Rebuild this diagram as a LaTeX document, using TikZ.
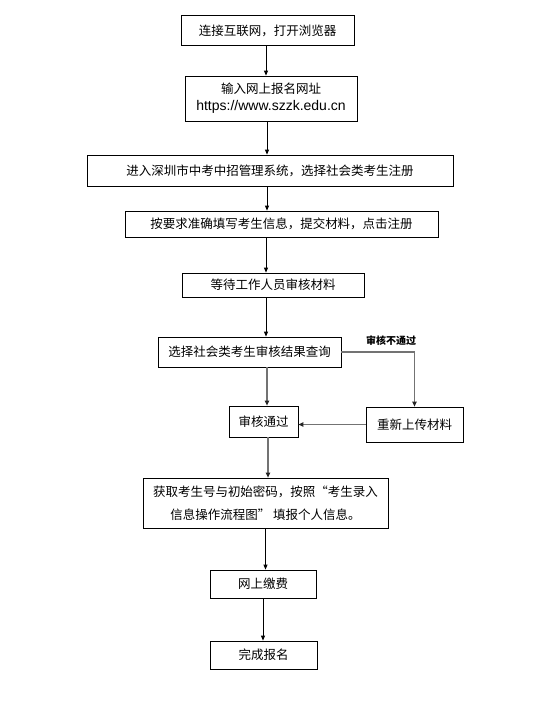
\documentclass[tikz,border=0pt]{standalone}
\usepackage{fontspec}
\setmainfont{Noto Sans CJK SC}
\newfontfamily\urlfont{Liberation Sans}
\usetikzlibrary{arrows.meta,calc}
\tikzset{
  box/.style={draw=black, line width=0.8pt, inner sep=0pt, align=center, font=\fontsize{12.5}{18}\selectfont},
  arr/.style={line width=0.8pt, -{Triangle[length=5pt,width=4pt]}},
  garr/.style={line width=1.1pt, draw=black!55, -{Triangle[length=5pt,width=4.5pt, color=black!85, fill=black!85]}},
}
\begin{document}
\begin{tikzpicture}[x=1pt,y=-1pt]
\useasboundingbox (0,0) rectangle (540,716);
\node[box, minimum width=173pt, minimum height=30pt] (b1) at (267.5,30.5) {连接互联网，打开浏览器};
\node[box, minimum width=172pt, minimum height=45pt] (b2) at (271,98.5) {输入网上报名网址\\[-1pt]{\urlfont\fontsize{14}{16}\selectfont https://www.szzk.edu.cn}};
\node[box, minimum width=366pt, minimum height=31pt] (b3) at (270,170.5) {进入深圳市中考中招管理系统，选择社会类考生注册};
\node[box, minimum width=313pt, minimum height=26pt] (b4) at (281.5,224) {按要求准确填写考生信息，提交材料，点击注册};
\node[box, minimum width=182pt, minimum height=24pt] (b5) at (273,285) {等待工作人员审核材料};
\node[box, minimum width=183pt, minimum height=30pt] (b6) at (249.5,352) {选择社会类考生审核结果查询};
\node[box, minimum width=69pt, minimum height=31pt] (b7) at (263.5,421.5) {审核通过};
\node[box, minimum width=97pt, minimum height=35pt] (b8) at (414.5,424.5) {重新上传材料};
\node[box, minimum width=245pt, minimum height=50pt, font=\fontsize{12.5}{23}\selectfont] (b9) at (265.5,503) {获取考生号与初始密码，按照“考生录入\\信息操作流程图” 填报个人信息。};
\node[box, minimum width=106pt, minimum height=28pt] (b10) at (263,584) {网上缴费};
\node[box, minimum width=107pt, minimum height=28pt] (b11) at (263.5,655) {完成报名};
\node[font=\fontsize{10}{12}\selectfont\bfseries] (lbl) at (391,341) {审核不通过};

\coordinate (c1) at (266,0);
\coordinate (c2) at (267,0);
\coordinate (c3) at (268,0);
\draw[arr] (b1.south -| c1) -- (b2.north -| c1);
\draw[arr] (b2.south -| c2) -- (b3.north -| c2);
\draw[arr] (b3.south -| c2) -- (b4.north -| c2);
\draw[arr] (b4.south -| c1) -- (b5.north -| c1);
\draw[arr] (b5.south -| c1) -- (b6.north -| c1);
\draw[garr] (b6.south -| c2) -- (b7.north -| c2);
\draw[garr] (b6.east) -| (b8.north);
\draw[garr] (b8.west) -- (b8.west -| b7.east);
\draw[garr] (b7.south -| c3) -- (b9.north -| c3);
\draw[arr] (b9.south -| b9.north) -- (b10.north -| b9.north);
\draw[arr] (b10.south) -- (b11.north -| b10.south);
\end{tikzpicture}
\end{document}
